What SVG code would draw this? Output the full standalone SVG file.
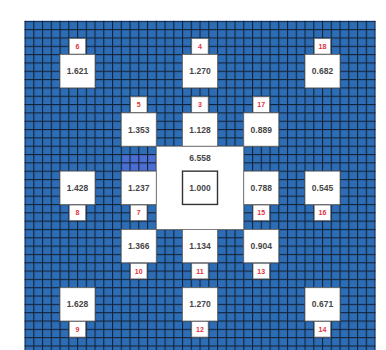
<svg xmlns="http://www.w3.org/2000/svg" width="386" height="350" viewBox="0 0 386 350">
<style>
.box{fill:#fff;stroke:#6b6b6b;stroke-width:0.8}
.lbl{fill:#fff;stroke:#6b6b6b;stroke-width:0.8}
.v{font-family:"Liberation Sans",Arial,sans-serif;font-size:8.5px;font-weight:bold;fill:#454545;text-anchor:middle}
.n{font-family:"Liberation Sans",Arial,sans-serif;font-size:7px;font-weight:bold;fill:#e3303c;text-anchor:middle}
</style>
<defs>
<pattern id="grid" patternUnits="userSpaceOnUse" x="24.5" y="20.8" width="8.75" height="8.325">
<rect x="0" y="0" width="1.1" height="8.325" fill="#142236"/>
<rect x="0" y="0" width="8.75" height="1.1" fill="#142236"/>
</pattern>
</defs>
<rect width="386" height="350" fill="#fff"/>
<rect x="24.5" y="20.8" width="351" height="329.2" fill="#2d6db5"/>
<rect x="121.25" y="154.5" width="35" height="16.65" fill="#4b6ed2"/>
<rect x="24.5" y="20.8" width="351.1" height="329.2" fill="url(#grid)"/>

<g id="center">
<rect class="box" x="156.25" y="146.2" width="87.5" height="83.25"/>
<text class="v" x="200" y="161">6.558</text>
<rect x="182.5" y="171.15" width="35" height="33.3" fill="#fff" stroke="#333" stroke-width="1.4"/>
<text class="v" x="200" y="190.8">1.000</text>
</g>

<g id="node6"><rect class="box" x="60" y="54.6" width="35" height="33.3"/><text class="v" x="77.5" y="74.3">1.621</text><rect class="lbl" x="69.2" y="38.5" width="16.5" height="15.6"/><text class="n" x="77.5" y="48.8">6</text></g>
<g id="node4"><rect class="box" x="182.5" y="54.6" width="35" height="33.3"/><text class="v" x="200" y="74.3">1.270</text><rect class="lbl" x="191.7" y="38.5" width="16.5" height="15.6"/><text class="n" x="200" y="48.8">4</text></g>
<g id="node18"><rect class="box" x="305" y="54.6" width="35" height="33.3"/><text class="v" x="322.5" y="74.3">0.682</text><rect class="lbl" x="314.2" y="38.5" width="16.5" height="15.6"/><text class="n" x="322.5" y="48.8">18</text></g>

<g id="node5"><rect class="box" x="121.25" y="112.9" width="35" height="33.3"/><text class="v" x="138.75" y="132.6">1.353</text><rect class="lbl" x="130.5" y="96.8" width="16.5" height="15.6"/><text class="n" x="138.75" y="107.1">5</text></g>
<g id="node3"><rect class="box" x="182.5" y="112.9" width="35" height="33.3"/><text class="v" x="200" y="132.6">1.128</text><rect class="lbl" x="191.7" y="96.8" width="16.5" height="15.6"/><text class="n" x="200" y="107.1">3</text></g>
<g id="node17"><rect class="box" x="243.75" y="112.9" width="35" height="33.3"/><text class="v" x="261.25" y="132.6">0.889</text><rect class="lbl" x="253" y="96.8" width="16.5" height="15.6"/><text class="n" x="261.25" y="107.1">17</text></g>

<g id="node8"><rect class="box" x="60" y="171.15" width="35" height="33.3"/><text class="v" x="77.5" y="190.8">1.428</text><rect class="lbl" x="69.2" y="205" width="16.5" height="15.6"/><text class="n" x="77.5" y="215.3">8</text></g>
<g id="node7"><rect class="box" x="121.25" y="171.15" width="35" height="33.3"/><text class="v" x="138.75" y="190.8">1.237</text><rect class="lbl" x="130.5" y="205" width="16.5" height="15.6"/><text class="n" x="138.75" y="215.3">7</text></g>
<g id="node15"><rect class="box" x="243.75" y="171.15" width="35" height="33.3"/><text class="v" x="261.25" y="190.8">0.788</text><rect class="lbl" x="253" y="205" width="16.5" height="15.6"/><text class="n" x="261.25" y="215.3">15</text></g>
<g id="node16"><rect class="box" x="305" y="171.15" width="35" height="33.3"/><text class="v" x="322.5" y="190.8">0.545</text><rect class="lbl" x="314.2" y="205" width="16.5" height="15.6"/><text class="n" x="322.5" y="215.3">16</text></g>

<g id="node10"><rect class="box" x="121.25" y="229.45" width="35" height="33.3"/><text class="v" x="138.75" y="249.1">1.366</text><rect class="lbl" x="130.5" y="263.3" width="16.5" height="15.6"/><text class="n" x="138.75" y="273.6">10</text></g>
<g id="node11"><rect class="box" x="182.5" y="229.45" width="35" height="33.3"/><text class="v" x="200" y="249.1">1.134</text><rect class="lbl" x="191.7" y="263.3" width="16.5" height="15.6"/><text class="n" x="200" y="273.6">11</text></g>
<g id="node13"><rect class="box" x="243.75" y="229.45" width="35" height="33.3"/><text class="v" x="261.25" y="249.1">0.904</text><rect class="lbl" x="253" y="263.3" width="16.5" height="15.6"/><text class="n" x="261.25" y="273.6">13</text></g>

<g id="node9"><rect class="box" x="60" y="287.7" width="35" height="33.3"/><text class="v" x="77.5" y="307.4">1.628</text><rect class="lbl" x="69.2" y="321.5" width="16.5" height="15.6"/><text class="n" x="77.5" y="331.8">9</text></g>
<g id="node12"><rect class="box" x="182.5" y="287.7" width="35" height="33.3"/><text class="v" x="200" y="307.4">1.270</text><rect class="lbl" x="191.7" y="321.5" width="16.5" height="15.6"/><text class="n" x="200" y="331.8">12</text></g>
<g id="node14"><rect class="box" x="305" y="287.7" width="35" height="33.3"/><text class="v" x="322.5" y="307.4">0.671</text><rect class="lbl" x="314.2" y="321.5" width="16.5" height="15.6"/><text class="n" x="322.5" y="331.8">14</text></g>
</svg>
